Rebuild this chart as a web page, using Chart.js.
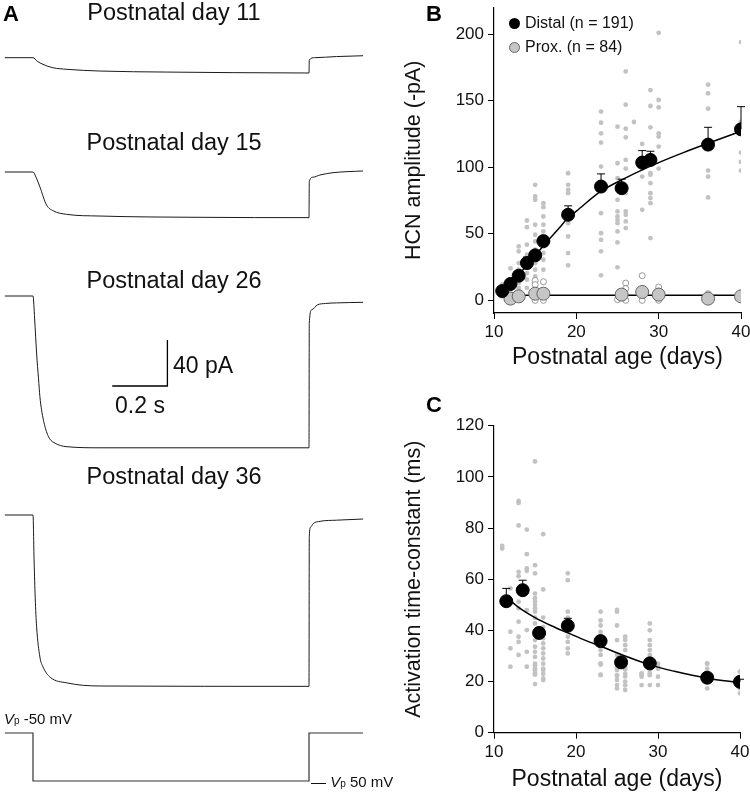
<!DOCTYPE html>
<html>
<head>
<meta charset="utf-8">
<script src="https://cdn.jsdelivr.net/npm/chart.js@4.4.1/dist/chart.umd.min.js"></script>
<style>
  body { margin: 0; background: #fff; font-family: "Liberation Sans", Arial, sans-serif; }
  #wrap { position: relative; width: 750px; height: 793px; overflow: hidden; }
  canvas { position: absolute; }
  .lbl { position: absolute; white-space: nowrap; color: #111; line-height: 1; transform: translate(-50%, -50%); }
  .left { transform: translate(0, -50%); }
  .panel { position: absolute; font-weight: bold; font-size: 22px; color: #000; }
  .dot { display: inline-block; width: 11px; height: 11px; border-radius: 50%; vertical-align: middle; margin-right: 5px; box-sizing: border-box; }
</style>
</head>
<body>
<div id="wrap">
  <canvas id="chartA" style="left:0;top:0" width="400" height="793"></canvas>
  <canvas id="chartB" style="left:400px;top:0" width="350" height="371"></canvas>
  <canvas id="chartC" style="left:400px;top:400px" width="350" height="393"></canvas>

  <div class="panel" style="left:3px;top:1px">A</div>
  <div class="panel" style="left:426px;top:1px">B</div>
  <div class="panel" style="left:426px;top:392px">C</div>

  <div class="lbl" style="left:174px;top:13px;font-size:23.5px">Postnatal day 11</div>
  <div class="lbl" style="left:174px;top:143px;font-size:23.5px">Postnatal day 15</div>
  <div class="lbl" style="left:174px;top:281px;font-size:23.5px">Postnatal day 26</div>
  <div class="lbl" style="left:174px;top:477px;font-size:23.5px">Postnatal day 36</div>

  <div class="lbl left" style="left:173px;top:365px;font-size:23px">40 pA</div>
  <div class="lbl" style="left:140px;top:405px;font-size:23px">0.2 s</div>

  <div class="lbl left" style="left:4px;top:718px;font-size:15px"><i>V</i><span style="font-size:10px">p</span> -50 mV</div>
  <div class="lbl left" style="left:311px;top:781px;font-size:15px">— <i>V</i><span style="font-size:10px">p</span> 50 mV</div>

  <div class="lbl left" style="left:509px;top:23px;font-size:16px"><span class="dot" style="background:#000"></span>Distal (n = 191)</div>
  <div class="lbl left" style="left:509px;top:47px;font-size:16px"><span class="dot" style="background:#c6c6c6;border:1px solid #666"></span>Prox. (n = 84)</div>
</div>

<script>
Chart.defaults.font.family = "'Liberation Sans', Arial, sans-serif";
Chart.defaults.color = "#111";

// ---------- panel A: example current traces (time in ms, current in pA vs. holding) ----------
const day11T = [-102, 0, 15, 36, 72, 123, 243, 486, 725, 1000, 1001, 1020, 1100, 1196];
const day11I = [0, 0, -3, -5.8, -8.7, -10.1, -11.6, -12.5, -13, -13.3, -2, 0, 1, 1.7];
const day15T = [-102, 0, 12, 25, 49, 73, 121, 243, 605, 1000, 1001, 1015, 1040, 1087, 1196];
const day15I = [0, 0, -5, -13, -28.7, -33.7, -36.8, -38.3, -39.4, -39.7, -8.4, -4.5, -2.6, -0.6, 0.9];
const day26T = [-102, 0, 6, 13, 20, 25, 31, 45, 60, 80, 120, 250, 1000, 1001, 1010, 1030, 1060, 1100, 1196];
const day26I = [0, 0, -20, -49.6, -72, -87.5, -99, -115, -124, -128, -131, -132, -132, -23.5, -12, -7.8, -6.5, -6, -5.5];
const day36T = [-102, 0, 4, 8, 13, 25, 36, 62, 123, 243, 1000, 1001, 1006, 1015, 1040, 1100, 1196];
const day36I = [0, 0, -40, -72, -97, -123.5, -132, -141, -146, -148.7, -149, -19, -10.5, -7.5, -5.5, -4.5, -3.5];
const protoT = [-102, 0, 0, 1000, 1000, 1196];
const protoMv = [-50, -50, -100, -100, -50, -50];

// layout of panel A (pixels)
const traceBase = [57.7, 172, 296, 515];
const pxPerMs = 0.276, tZeroPx = 33, pxPerPa = 1.15;
const vTopPx = 733, vBotPx = 781;
const barMs = 200, barPa = 40, barEndT = 487, barBasePx = 386;

const traces = [[day11T, day11I], [day15T, day15I], [day26T, day26I], [day36T, day36I]];
const traceSets = traces.map(([t, cur], k) => ({
  data: t.map((x, i) => ({ x: x, y: -traceBase[k] / pxPerPa + cur[i] })),
  borderColor: "#1a1a1a", borderWidth: 1, pointRadius: 0, cubicInterpolationMode: "monotone", yAxisID: "y"
}));
const mvPerPx = 50 / (vBotPx - vTopPx);

new Chart(document.getElementById("chartA"), {
  type: "line",
  data: {
    datasets: [
      ...traceSets,
      {
        data: protoT.map((x, i) => ({ x: x, y: protoMv[i] })),
        borderColor: "#333", borderWidth: 1.2, pointRadius: 0, tension: 0, yAxisID: "v"
      },
      {
        data: [
          { x: barEndT - barMs, y: -barBasePx / pxPerPa },
          { x: barEndT, y: -barBasePx / pxPerPa },
          { x: barEndT, y: -barBasePx / pxPerPa + barPa }
        ],
        borderColor: "#000", borderWidth: 1.3, pointRadius: 0, tension: 0, yAxisID: "y"
      }
    ]
  },
  options: {
    responsive: false, animation: false, events: [],
    layout: { padding: 0 },
    plugins: { legend: { display: false }, tooltip: { enabled: false } },
    scales: {
      x: { type: "linear", display: false, min: -tZeroPx / pxPerMs, max: (400 - tZeroPx) / pxPerMs },
      y: { type: "linear", display: false, min: -793 / pxPerPa, max: 0 },
      v: { type: "linear", display: false, min: -50 - (793 - vTopPx) * mvPerPx, max: -50 + vTopPx * mvPerPx }
    }
  }
});

// ---------- panel B: HCN amplitude ----------
const distalAge = [11, 12, 13, 14, 15, 16, 19, 23, 25.5, 28, 29, 36, 40];
const distalMean = [7, 12.3, 18.5, 28, 33.8, 44.5, 64.3, 85.5, 84.3, 103.5, 105.5, 117, 128.5];
const distalErr = [2, 2, 2, 4.5, 2, 2, 6.7, 9.5, 6.7, 9, 6.5, 13, 17];
const distalFitAge = [11, 12, 13, 14, 15, 16, 17, 18, 19, 20, 23, 26, 28, 30, 33, 36, 40];
const distalFitVal = [6, 12, 19, 26.5, 33.5, 41, 48, 55, 62, 67, 82, 92, 98, 103.5, 111, 118, 127];
const proxAge = [12, 13, 15, 16, 25.5, 28, 30, 36, 40];
const proxMean = [1.3, 3, 5, 5, 4.3, 6.3, 4.3, 1.3, 3];
const proxFitAge = [12, 40];
const proxFitVal = [3.8, 3.8];

const distalCells = {
  11: [12, 8, 5, 3],
  12: [24, 15.5, 8, 4],
  13: [40.5, 36.8, 28, 23, 13, 9.3, 5],
  14: [60, 55, 41.8, 34.3, 25.5, 20.5, 15.5, 9.3],
  15: [86.8, 78, 75.5, 56.8, 49.3, 44.3, 38, 33, 28, 23, 18, 11.8],
  16: [73, 70, 63, 56.8, 51.8, 46.8, 40.5, 35.5, 30.5, 23, 13],
  19: [95.5, 86.8, 83, 80.5, 58, 48, 35.5, 26.3],
  23: [141.8, 133.5, 125.5, 118.5, 100.5, 65.5, 50.5, 45.5, 36.8, 18.8],
  25: [130.5, 103, 91.8, 75.5, 66.8, 63, 60.5, 58, 51.8, 43.5, 24.8],
  26: [172, 147, 129, 122.5, 105.5, 99, 80.5, 66.8, 64.3, 59.3, 54.3],
  27: [134],
  28: [117.5, 99, 93, 68],
  29: [158, 146, 130, 95.5, 94.3, 88, 80.5, 76.8, 73, 46.8],
  30: [201, 150.5, 145, 125.5, 123, 115.5, 99],
  36: [162, 155.5, 144, 97.5, 93, 77.3],
  40: [194, 134, 111, 104, 97.5]
};
const proxCellAge = [15, 15, 15, 16, 16, 25, 26, 26, 26, 28, 28, 30, 30, 30, 36, 40];
const proxCellAmp = [15, 11.8, 0, 14, 0, 0.5, 13, 8.8, 0, 18.5, 0, 10, 7, 0, 5, 5];

const xy = (xs, ys) => xs.map((x, i) => ({ x: x, y: ys[i] }));
const cellPoints = cells => Object.keys(cells).flatMap(d => cells[d].map(v => ({ x: +d, y: v })));

const errorBars = {
  id: "errorBars",
  afterDatasetsDraw(chart) {
    const ctx = chart.ctx;
    chart.data.datasets.forEach((ds, i) => {
      if (!ds.errUp) return;
      const meta = chart.getDatasetMeta(i);
      ctx.save();
      ctx.strokeStyle = "#000";
      ctx.lineWidth = 1;
      meta.data.forEach((pt, j) => {
        const top = chart.scales.y.getPixelForValue(ds.data[j].y + ds.errUp[j]);
        ctx.beginPath();
        ctx.moveTo(pt.x, pt.y);
        ctx.lineTo(pt.x, top);
        ctx.moveTo(pt.x - 4, top);
        ctx.lineTo(pt.x + 4, top);
        ctx.stroke();
      });
      ctx.restore();
    });
  }
};

const axisX = (h, title) => ({
  type: "linear", min: 10, max: 40,
  afterBuildTicks: s => { s.ticks = [10, 20, 30, 40].map(v => ({ value: v })); },
  afterFit: s => { s.height = h; s.paddingLeft = 0; s.paddingRight = 0; },
  grid: { drawOnChartArea: false, drawTicks: true, tickLength: 6, color: "#000", lineWidth: 1 },
  border: { display: true, color: "#000", width: 1.2 },
  ticks: { font: { size: 17 }, color: "#111", padding: 3 },
  title: { display: true, text: title, font: { size: 23, lineHeight: 1.2 }, color: "#111", padding: 0 }
});
const axisY = (min, max, ticks, title) => ({
  type: "linear", min: min, max: max,
  afterBuildTicks: s => { s.ticks = ticks.map(v => ({ value: v })); },
  afterFit: s => { s.width = 94; s.paddingTop = 0; s.paddingBottom = 0; },
  grid: { drawOnChartArea: false, drawTicks: true, tickLength: 6, color: "#000", lineWidth: 1 },
  border: { display: true, color: "#000", width: 1.2 },
  ticks: { font: { size: 17 }, color: "#111", padding: 4 },
  title: { display: true, text: title, font: { size: 21.5, lineHeight: 1.2 }, color: "#111", padding: 1 }
});

new Chart(document.getElementById("chartB"), {
  type: "scatter",
  data: {
    datasets: [
      { data: xy(distalAge, distalMean), errUp: distalErr, backgroundColor: "#000", borderColor: "#000", pointRadius: 6.5, order: 1 },
      { data: xy(proxAge, proxMean), backgroundColor: "#c6c6c6", borderColor: "#666", borderWidth: 1, pointRadius: 6.5, order: 2 },
      { type: "line", data: xy(distalFitAge, distalFitVal), borderColor: "#000", borderWidth: 1.5, pointRadius: 0, cubicInterpolationMode: "monotone", order: 3 },
      { type: "line", data: xy(proxFitAge, proxFitVal), borderColor: "#000", borderWidth: 1.5, pointRadius: 0, order: 4 },
      { data: xy(proxCellAge, proxCellAmp), backgroundColor: "#fff", borderColor: "#999", borderWidth: 1, pointRadius: 3, order: 5 },
      { data: cellPoints(distalCells), backgroundColor: "#c2c2c2", borderWidth: 0, pointRadius: 2.4, order: 6 }
    ]
  },
  options: {
    responsive: false, animation: false, events: [],
    layout: { padding: { top: 7, right: 9, left: 0, bottom: 0 } },
    plugins: { legend: { display: false }, tooltip: { enabled: false } },
    scales: {
      x: axisX(58, "Postnatal age (days)"),
      y: axisY(-9.5, 220, [0, 50, 100, 150, 200], "HCN amplitude (-pA)")
    }
  },
  plugins: [errorBars]
});

// ---------- panel C: activation time-constant ----------
const tauAge = [11.5, 13.5, 15.5, 19, 23, 25.5, 29, 36, 40];
const tauMean = [51.4, 55.7, 39, 41.8, 35.8, 27.5, 27.1, 21.5, 19.9];
const tauErr = [5, 3.9, 2, 2.9, 1.5, 1.5, 1.5, 1, 1];
const tauFitAge = [11.5, 13, 15, 17, 19, 21, 23, 26, 29, 32, 36, 40];
const tauFitVal = [53, 49, 45, 41.8, 39, 36.3, 33.8, 30, 26.5, 24, 21.3, 19.5];
const tauCells = {
  11: [73, 72, 51],
  12: [56.4, 39.5, 33, 25.8],
  13: [90.6, 89.8, 81, 62.9, 61.2, 55.7, 51.2, 48.6, 43.4, 37.5, 35.5, 30.4],
  14: [79.4, 69.8, 64.2, 63.3, 47.9, 40.1, 31.6, 25.8],
  15: [106, 65.5, 62.3, 54.4, 52.6, 51.3, 49.9, 48.6, 47.3, 45, 42.7, 38.2, 36.2, 33.6, 31.6, 29.6, 27, 24.4, 22.7, 26.4, 25.1, 23.2, 19],
  16: [77.6, 56, 45, 41.4, 38.8, 36.9, 34.9, 33, 31, 29, 27, 25, 23, 21.2, 24.5, 20.6],
  19: [62.3, 59.6, 47.3, 45, 37.5, 35.5, 33, 31],
  23: [47.3, 43.9, 41.9, 39.4, 37.5, 34.9, 32.3, 30.4, 26.6, 22.7, 27.1, 22.5],
  25: [48, 47.3, 41.9, 36.2, 30.4, 25.3, 22.2, 24.5, 22.5, 20.6, 18.6, 17.3],
  26: [37.5, 36.2, 34.2, 32.3, 29, 25.8, 23, 24.7, 22, 20, 18.5, 16.7],
  28: [22.7, 23.2, 21.9, 18.6],
  29: [42.7, 40, 36.2, 34.2, 32.3, 30.4, 23.2, 24.5, 22.5, 18.6],
  30: [27, 25, 25.8, 21.9, 18.6],
  36: [27, 25, 27.1, 22.5, 17.3],
  40: [23.9, 23.8, 21.2, 17.3, 15.4]
};

new Chart(document.getElementById("chartC"), {
  type: "scatter",
  data: {
    datasets: [
      { data: xy(tauAge, tauMean), errUp: tauErr, backgroundColor: "#000", borderColor: "#000", pointRadius: 6.5, order: 1 },
      { type: "line", data: xy(tauFitAge, tauFitVal), borderColor: "#000", borderWidth: 1.5, pointRadius: 0, cubicInterpolationMode: "monotone", order: 2 },
      { data: cellPoints(tauCells), backgroundColor: "#c2c2c2", borderWidth: 0, pointRadius: 2.4, order: 3 }
    ]
  },
  options: {
    responsive: false, animation: false, events: [],
    layout: { padding: { top: 25.7, right: 10, left: 0, bottom: 0 } },
    plugins: { legend: { display: false }, tooltip: { enabled: false } },
    scales: {
      x: axisX(60.3, "Postnatal age (days)"),
      y: axisY(0, 120, [0, 20, 40, 60, 80, 100, 120], "Activation time-constant (ms)")
    }
  },
  plugins: [errorBars]
});
</script>
</body>
</html>
